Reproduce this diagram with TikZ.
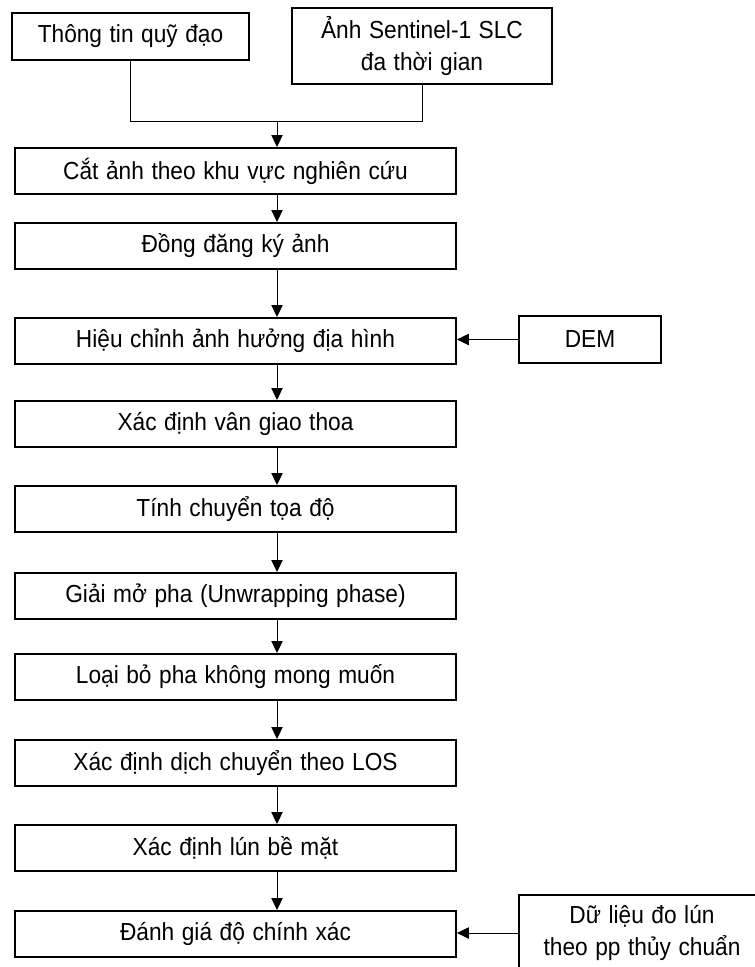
\documentclass[tikz,border=0pt]{standalone}
\usepackage{fontspec}
\setmainfont{Liberation Sans}[FakeStretch=0.92,WordSpace=1.2]
\usetikzlibrary{arrows.meta}

\begin{document}
\begin{tikzpicture}[x=0.75pt,y=-0.75pt,
  box/.style={draw,line width=1.3pt,inner sep=0pt,align=center,font=\fontsize{18.5}{24}\selectfont},
  mainbox/.style={box,minimum width=330.75pt,minimum height=34.5pt},
  link/.style={line width=0.75pt},
  arr/.style={link,-{Triangle[length=9pt,width=8.5pt]}}]
\useasboundingbox (0,0) rectangle (755,967);

% input data
\node[box,minimum width=177.75pt,minimum height=35.25pt] (orbit) at (130.5,36.5) {Thông tin quỹ đạo};
\node[box,minimum width=195pt,minimum height=57pt] (slc) at (422,46) {Ảnh Sentinel-1 SLC\\đa thời gian};

% processing chain
\foreach \n/\t/\s in {crop/147/{Cắt ảnh theo khu vực nghiên cứu},
  coreg/222/{Đồng đăng ký ảnh},
  topo/317/{Hiệu chỉnh ảnh hưởng địa hình},
  fringe/400/{Xác định vân giao thoa},
  geocode/485/{Tính chuyển tọa độ},
  unwrap/572/{Giải mở pha (Unwrapping phase)},
  phase/653/{Loại bỏ pha không mong muốn},
  los/739/{Xác định dịch chuyển theo LOS},
  subs/824/{Xác định lún bề mặt},
  acc/910/{Đánh giá độ chính xác}}
  \node[mainbox,anchor=north] (\n) at (235.5,\t) {\s};

\node[box,minimum width=106.5pt,minimum height=35.25pt] (dem) at (590,339.5) {DEM};
\node[box,minimum width=184.5pt,minimum height=57pt] (level) at (642,933) {Dữ liệu đo lún\\theo pp thủy chuẩn};

\coordinate (axis) at (277,0);
\coordinate (join) at (277,121);
\draw[link] (orbit.south) |- (join);
\draw[link] (slc.south) |- (join);
\draw[arr] (join) -- (crop.north -| join);
\foreach \a/\b in {crop/coreg,coreg/topo,topo/fringe,fringe/geocode,geocode/unwrap,
  unwrap/phase,phase/los,los/subs,subs/acc}
  \draw[arr] (\a.south -| axis) -- (\b.north -| axis);
\draw[arr] (dem.west) -- (topo.east |- dem.west);
\draw[arr] (level.west) -- (acc.east |- level.west);

\end{tikzpicture}
\end{document}
